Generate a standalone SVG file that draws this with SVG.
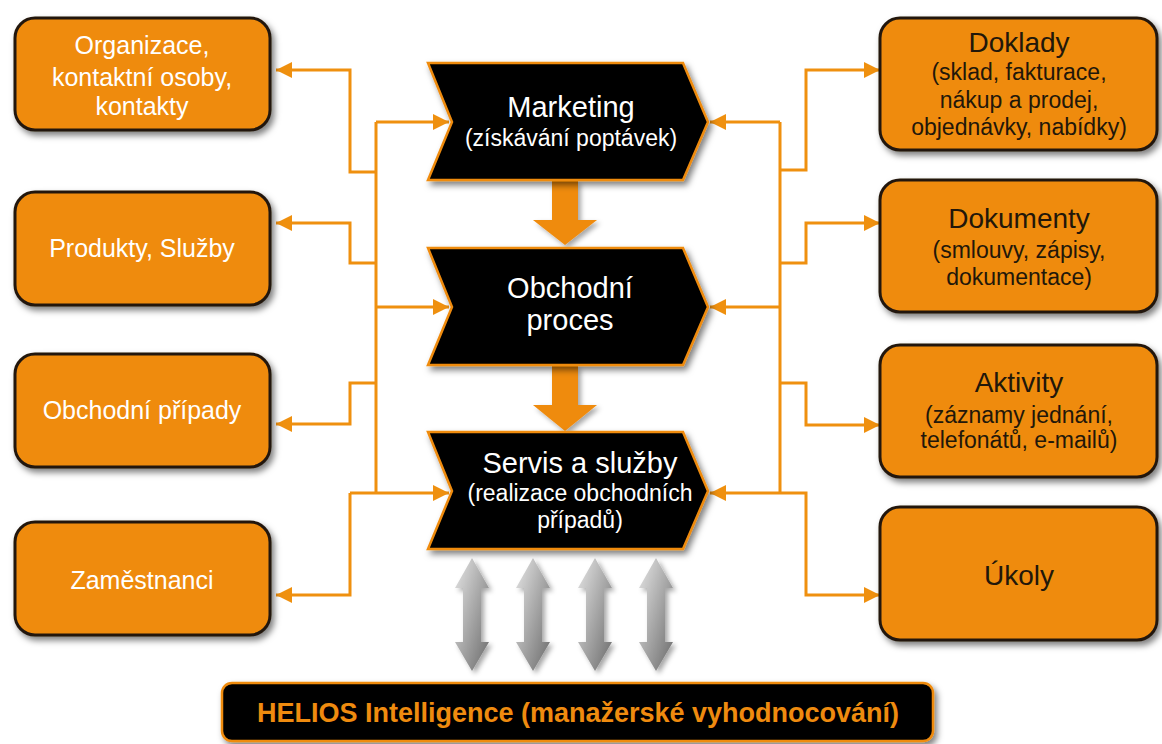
<svg xmlns="http://www.w3.org/2000/svg" width="1162" height="744" viewBox="0 0 1162 744">
<style>
.box{fill:#EF8B0F;stroke:#22180c;stroke-width:3;filter:url(#sh)}
.chev{fill:#000;stroke:#EF8B0F;stroke-width:2.5;filter:url(#sh)}
.con{fill:none;stroke:#EF900F;stroke-width:3}
.arr{marker-end:url(#ah)}
.lt{font-family:"Liberation Sans",Arial,sans-serif;font-size:25px;fill:#fff;text-anchor:middle}
.rt{font-family:"Liberation Sans",Arial,sans-serif;font-size:23px;fill:#22170a;text-anchor:middle}
.rh{font-family:"Liberation Sans",Arial,sans-serif;font-size:28px;fill:#22170a;text-anchor:middle}
.ct{font-family:"Liberation Sans",Arial,sans-serif;font-size:29px;fill:#fff;text-anchor:middle}
.cs{font-family:"Liberation Sans",Arial,sans-serif;font-size:23px;fill:#fff;text-anchor:middle}
.bt{font-family:"Liberation Sans",Arial,sans-serif;font-size:27px;font-weight:bold;fill:#EF8B0F;text-anchor:middle}
.down{fill:#EF8B0F;filter:url(#sh2)}
.gray{fill:url(#gg);filter:url(#sh2)}
</style>
<defs>
<filter id="sh" x="-10%" y="-10%" width="125%" height="130%">
<feDropShadow dx="3" dy="4" stdDeviation="3" flood-color="#000" flood-opacity="0.5"/>
</filter>
<filter id="sh2" x="-30%" y="-10%" width="160%" height="130%">
<feDropShadow dx="3" dy="3" stdDeviation="2.5" flood-color="#000" flood-opacity="0.35"/>
</filter>
<linearGradient id="gg" x1="0" y1="0" x2="1" y2="1">
<stop offset="0" stop-color="#e6e6e6"/>
<stop offset="0.5" stop-color="#a8a8a8"/>
<stop offset="1" stop-color="#6a6a6a"/>
</linearGradient>
<marker id="ah" markerUnits="userSpaceOnUse" markerWidth="18" markerHeight="16" refX="16" refY="8" orient="auto">
<path d="M0,0 L16,8 L0,16 Z" fill="#EF900F"/>
</marker>
</defs>

<g id="connectors">
<path class="con" d="M376 122 V493"/>
<path class="con arr" d="M376 122 H449"/>
<path class="con arr" d="M376 307 H449"/>
<path class="con arr" d="M376 493 H449"/>
<path class="con arr" d="M376 172 H350 V70 H276"/>
<path class="con arr" d="M376 263 H350 V223 H276"/>
<path class="con arr" d="M376 383 H350 V424 H276"/>
<path class="con arr" d="M350 493 H376 M350 493 V595 H276"/>
<path class="con" d="M780 122 V493"/>
<path class="con arr" d="M780 122 H710"/>
<path class="con arr" d="M780 307 H710"/>
<path class="con arr" d="M780 493 H710"/>
<path class="con arr" d="M780 170 H806 V70 H880"/>
<path class="con arr" d="M780 263 H806 V223 H880"/>
<path class="con arr" d="M780 383 H806 V425 H880"/>
<path class="con arr" d="M780 493 H806 V595 H880"/>
<polygon class="down" points="552,181 578,181 578,220 597,220 565,245 533,220 552,220"/>
<polygon class="down" points="552,366 578,366 578,405 597,405 565,431 533,405 552,405"/>
<g id="gray-arrows">
<polygon class="gray" points="472,558 489,588 481,588 481,642 489,642 472,671 455,642 463,642 463,588 455,588"/>
<polygon class="gray" points="533,558 550,588 542,588 542,642 550,642 533,671 516,642 524,642 524,588 516,588"/>
<polygon class="gray" points="595,558 612,588 604,588 604,642 612,642 595,671 578,642 586,642 586,588 578,588"/>
<polygon class="gray" points="656,558 673,588 665,588 665,642 673,642 656,671 639,642 647,642 647,588 639,588"/>
</g>
</g>

<g id="organizace">
<rect class="box" x="15" y="18" width="255" height="112" rx="20"/>
<text class="lt" x="142" y="54">Organizace,</text>
<text class="lt" x="142" y="86">kontaktní osoby,</text>
<text class="lt" x="142" y="115">kontakty</text>
</g>
<g id="produkty">
<rect class="box" x="15" y="192" width="255" height="113" rx="20"/>
<text class="lt" x="142" y="257">Produkty, Služby</text>
</g>
<g id="pripady">
<rect class="box" x="15" y="354" width="255" height="113" rx="20"/>
<text class="lt" x="142" y="419">Obchodní případy</text>
</g>
<g id="zamestnanci">
<rect class="box" x="15" y="522" width="255" height="113" rx="20"/>
<text class="lt" x="142" y="589">Zaměstnanci</text>
</g>

<g id="doklady">
<rect class="box" x="880" y="18" width="277" height="132" rx="20"/>
<text class="rh" x="1019" y="52">Doklady</text>
<text class="rt" x="1019" y="80">(sklad, fakturace,</text>
<text class="rt" x="1019" y="108">nákup a prodej,</text>
<text class="rt" x="1019" y="135">objednávky, nabídky)</text>
</g>
<g id="dokumenty">
<rect class="box" x="880" y="180" width="277" height="132" rx="20"/>
<text class="rh" x="1019" y="228">Dokumenty</text>
<text class="rt" x="1019" y="258">(smlouvy, zápisy,</text>
<text class="rt" x="1019" y="285">dokumentace)</text>
</g>
<g id="aktivity">
<rect class="box" x="880" y="345" width="277" height="132" rx="20"/>
<text class="rh" x="1019" y="392">Aktivity</text>
<text class="rt" x="1019" y="423">(záznamy jednání,</text>
<text class="rt" x="1019" y="448">telefonátů, e-mailů)</text>
</g>
<g id="ukoly">
<rect class="box" x="880" y="507" width="277" height="133" rx="20"/>
<text class="rh" x="1019" y="585">Úkoly</text>
</g>

<g id="marketing">
<polygon class="chev" points="428,63 683,63 708,122 683,180 428,180 452,122"/>
<text class="ct" x="571" y="117">Marketing</text>
<text class="cs" x="571" y="146">(získávání poptávek)</text>
</g>
<g id="obchodni-proces">
<polygon class="chev" points="428,248 683,248 708,307 683,365 428,365 452,307"/>
<text class="ct" x="570" y="298">Obchodní</text>
<text class="ct" x="570" y="330">proces</text>
</g>
<g id="servis">
<polygon class="chev" points="428,432 683,432 708,491 683,549 428,549 452,491"/>
<text class="ct" x="580" y="473">Servis a služby</text>
<text class="cs" x="580" y="501">(realizace obchodních</text>
<text class="cs" x="580" y="528">případů)</text>
</g>

<g id="helios">
<rect x="222" y="683" width="711" height="58" rx="10" fill="#000" stroke="#EF8B0F" stroke-width="2.5" filter="url(#sh)"/>
<text class="bt" x="578" y="722">HELIOS Intelligence (manažerské vyhodnocování)</text>
</g>
</svg>
